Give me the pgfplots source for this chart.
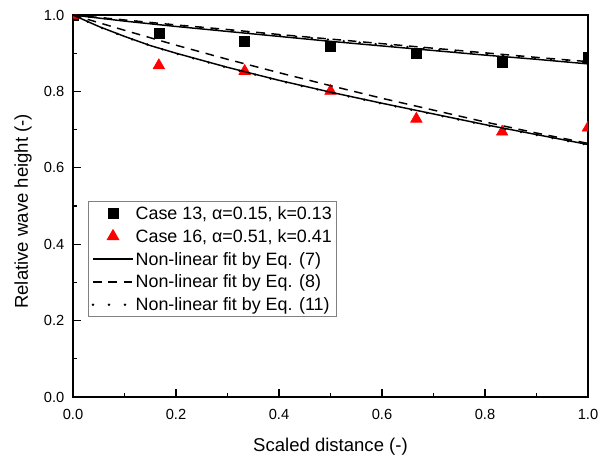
\documentclass[border=0pt]{standalone}
\usepackage{fontspec}
\setmainfont{Liberation Sans}
\usepackage{pgfplots}
\pgfplotsset{compat=1.18}

\begin{document}
\begin{tikzpicture}
\begin{axis}[
    name=ax,
    scale only axis,
    width=386.25pt, height=286.5pt,
    xmin=0, xmax=1, ymin=0, ymax=1,
    xtick={0,0.2,0.4,0.6,0.8,1.0},
    ytick={0,0.2,0.4,0.6,0.8,1.0},
    minor tick num=1,
    tick align=inside,
    tick pos=left,
    major tick length=6pt, minor tick length=3pt,
    axis line style={line width=0.9pt},
    every tick/.style={line width=0.9pt, black},
    /pgf/number format/fixed,
    /pgf/number format/fixed zerofill,
    /pgf/number format/precision=1,
    /pgf/number format/assume math mode=true,
    ticklabel style={font=\fontsize{11}{13}\selectfont},
    xticklabel style={yshift=-6pt},
    yticklabel style={xshift=-3pt},
    xlabel={Scaled distance (-)},
    ylabel={Relative wave height (-)},
    label style={font=\fontsize{13.9}{16}\selectfont},
    xlabel style={at={(axis description cs:0.5,0)}, anchor=base, yshift=-40.5pt},
    ylabel style={at={(axis description cs:-0.0971,0.486)}, anchor=center, rotate=0},
    clip marker paths=true,
    legend style={at={(0.029,0.513)}, anchor=north west, draw=gray, line width=0.6pt,
        font=\fontsize{13.4}{16}\selectfont, inner xsep=2.5pt, inner ysep=0.5pt,
        row sep=0pt, nodes={inner sep=1pt, text height=12.1pt, text depth=3pt},
        cells={anchor=west}},
    legend image code/.code={\draw[mark repeat=2, mark phase=2, #1]
        plot coordinates {(0pt,0pt) (15pt,0pt) (30pt,0pt)};},
]
% measured points
\addplot[only marks, mark=square*, mark size=3.75pt, black] coordinates {
    (0,1.000) (0.1667,0.952) (0.3333,0.930) (0.5,0.919) (0.6667,0.899) (0.8333,0.877) (1,0.889)
};
\addplot[only marks, mark=triangle*, mark size=5pt, red, mark options={fill=red}] coordinates {
    (0,1.000) (0.1667,0.868) (0.3333,0.853) (0.5,0.801) (0.6667,0.728) (0.8333,0.694) (1,0.705)
};
% fits, case 16
\addplot[black, line width=1.1pt, no marks] coordinates {
    (0,1.000) (0.05,0.970) (0.1,0.944) (0.15,0.920) (0.2,0.900) (0.3,0.863) (0.4,0.829)
    (0.5,0.798) (0.6,0.769) (0.7,0.741) (0.8,0.713) (0.9,0.687) (1.0,0.661)
};
\addplot[black, line width=1.1pt, no marks, dash pattern=on 6.5pt off 5pt] coordinates {
    (0,1.000) (0.1,0.960) (0.2,0.921) (0.3,0.884) (0.4,0.849) (0.5,0.815)
    (0.6,0.782) (0.7,0.751) (0.8,0.720) (0.9,0.691) (1.0,0.664)
};
\addplot[black, line width=2pt, no marks, line cap=round, dash pattern=on 0pt off 12pt] coordinates {
    (0,1.000) (0.05,0.969) (0.1,0.943) (0.15,0.920) (0.2,0.899) (0.3,0.862) (0.4,0.828)
    (0.5,0.797) (0.6,0.768) (0.7,0.740) (0.8,0.712) (0.9,0.686) (1.0,0.660)
};
% fits, case 13
\addplot[black, line width=1.1pt, no marks, forget plot] coordinates {
    (0,1.000) (0.1,0.984) (0.2,0.970) (0.3,0.957) (0.4,0.944) (0.5,0.931)
    (0.6,0.919) (0.7,0.907) (0.8,0.895) (0.9,0.884) (1.0,0.872)
};
\addplot[black, line width=1.1pt, no marks, dash pattern=on 6.5pt off 5pt, forget plot] coordinates {
    (0,1.000) (0.1,0.987) (0.2,0.974) (0.3,0.962) (0.4,0.949) (0.5,0.937)
    (0.6,0.925) (0.7,0.913) (0.8,0.901) (0.9,0.889) (1.0,0.878)
};
\addplot[black, line width=2pt, no marks, line cap=round, dash pattern=on 0pt off 12pt, forget plot] coordinates {
    (0,1.000) (0.1,0.986) (0.2,0.973) (0.3,0.960) (0.4,0.947) (0.5,0.935)
    (0.6,0.922) (0.7,0.910) (0.8,0.898) (0.9,0.887) (1.0,0.876)
};
\legend{{Case 13, α=0.15, k=0.13}, {Case 16, α=0.51, k=0.41},
    {Non-linear fit by Eq. (7)}, {Non-linear fit by Eq. (8)}, {Non-linear fit by Eq. (11)}}
\end{axis}
\pgfresetboundingbox
\path (ax.south west) ++(-54.75pt,-42.75pt) rectangle ([xshift=7.5pt,yshift=11.25pt]ax.north east);
\end{tikzpicture}
\end{document}
